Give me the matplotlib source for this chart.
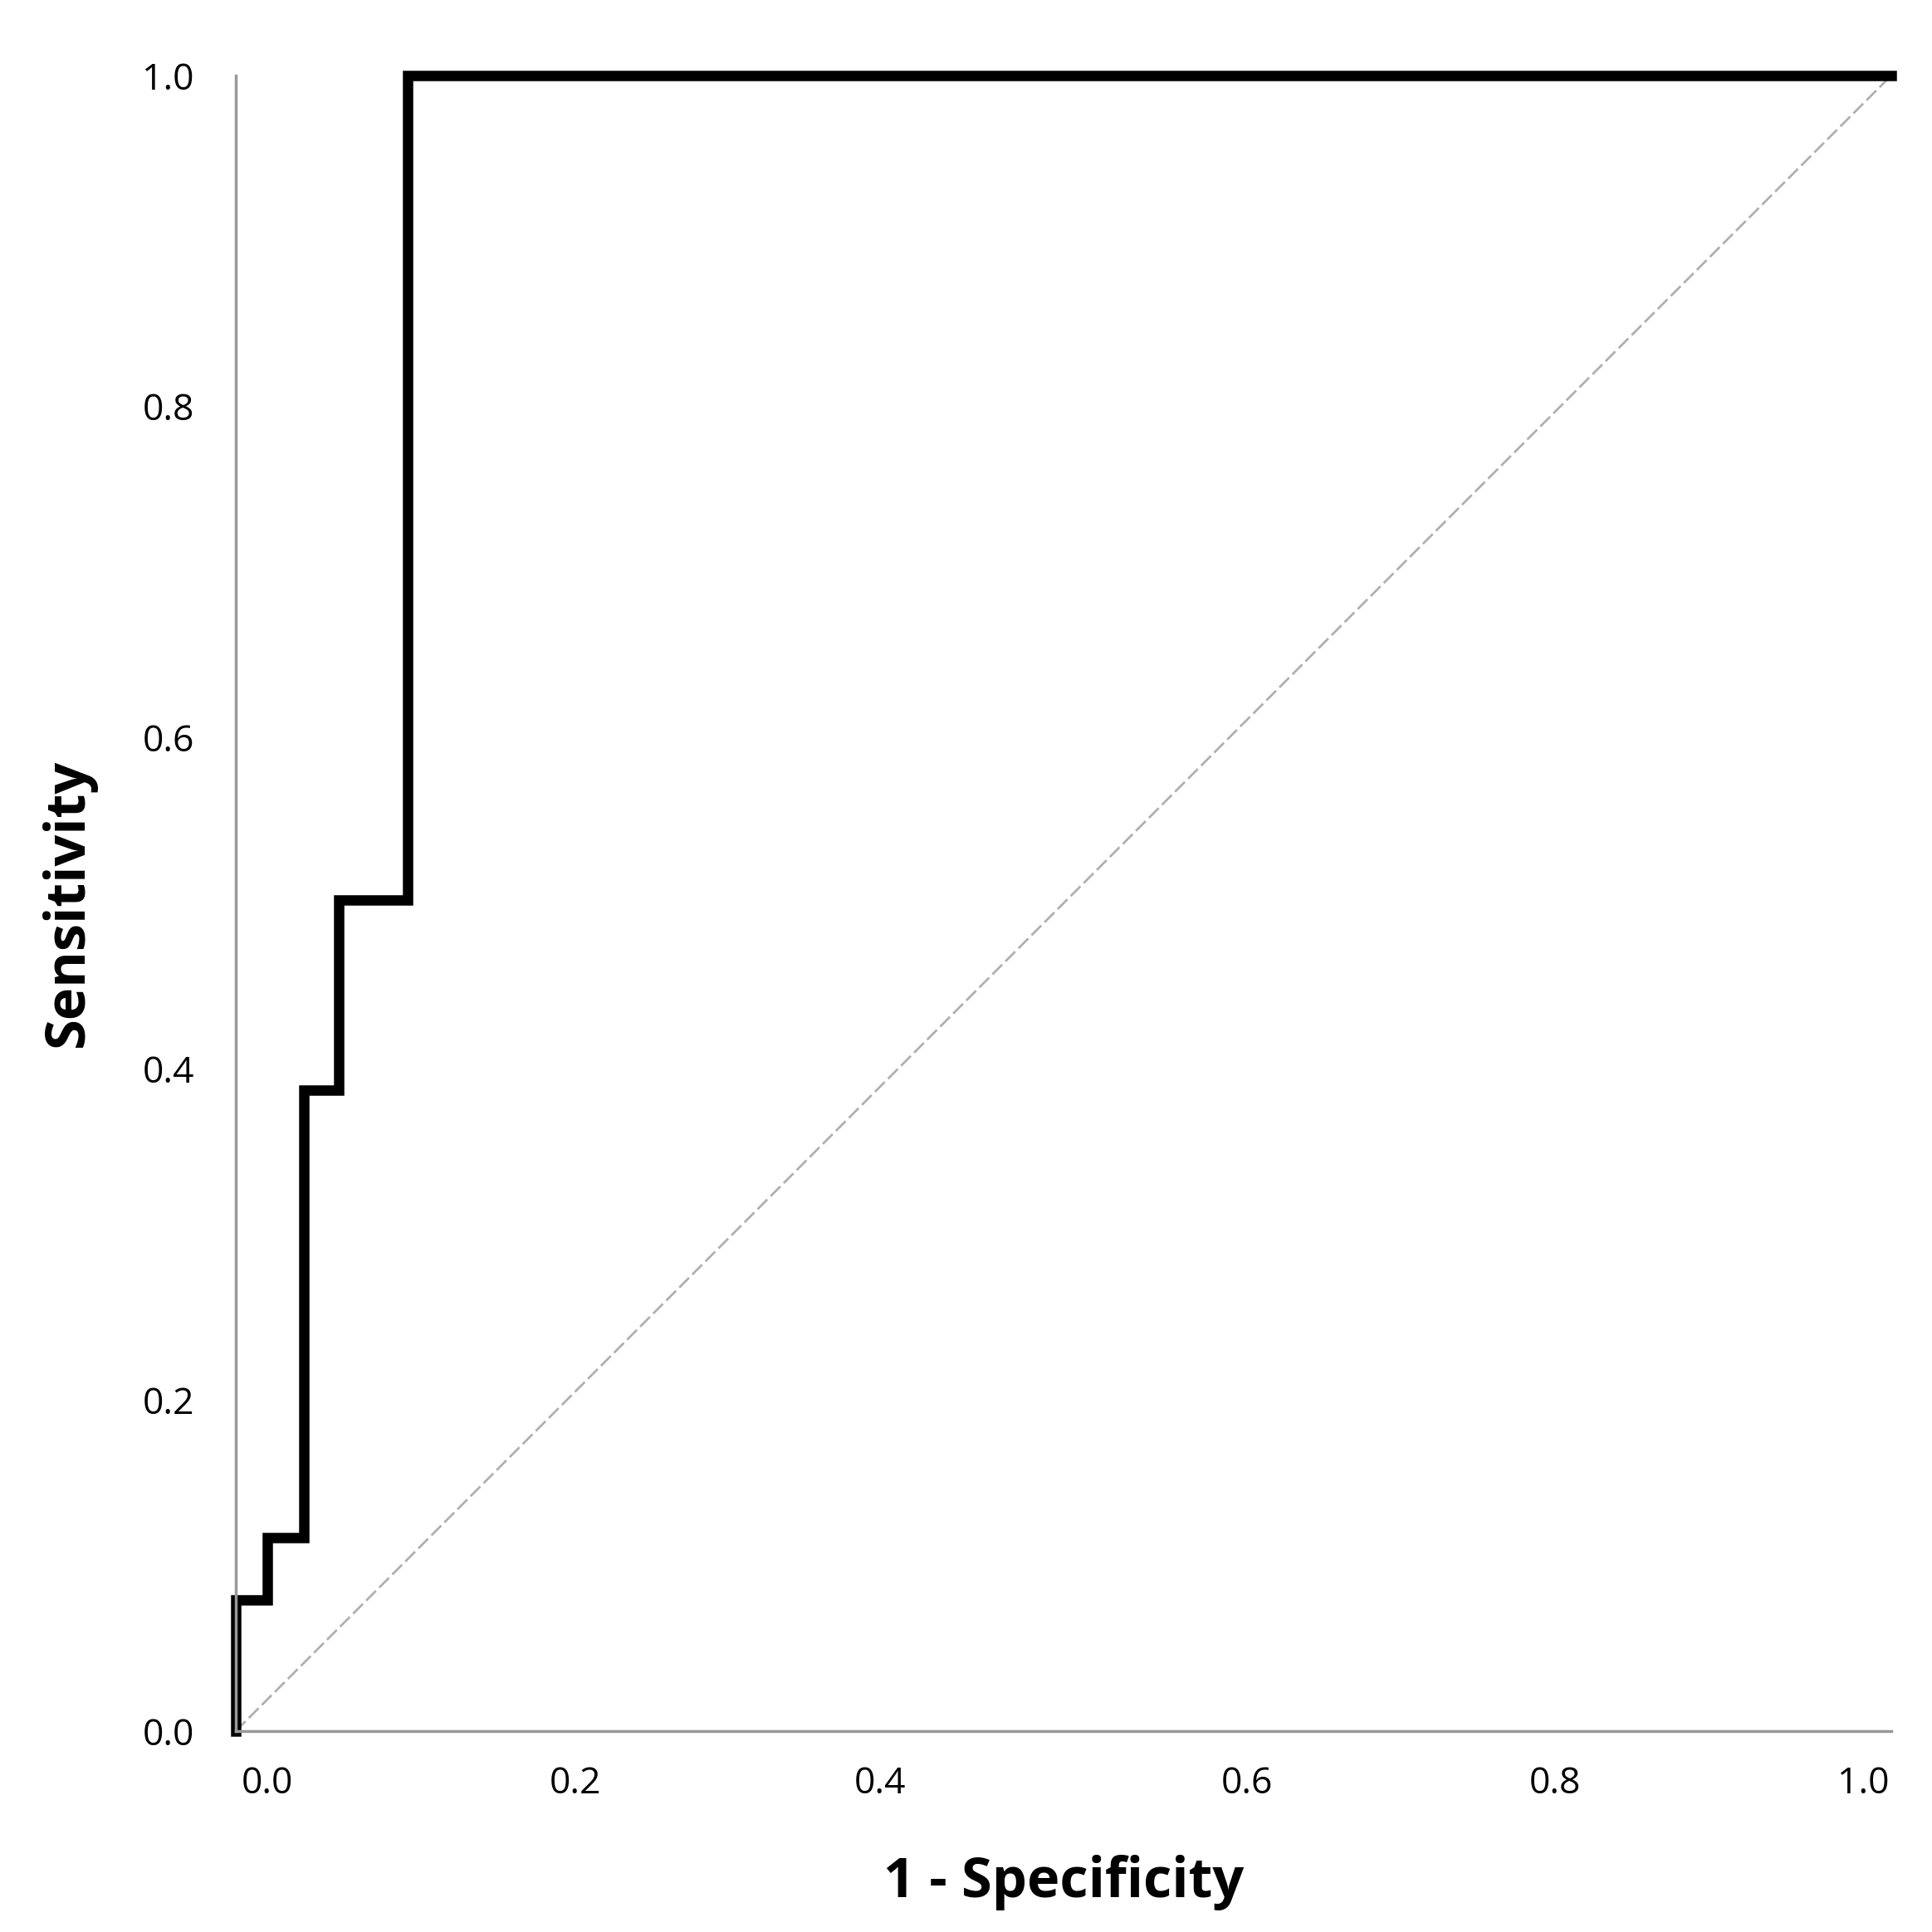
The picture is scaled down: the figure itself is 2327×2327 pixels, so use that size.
import matplotlib.pyplot as plt

# ROC step curve (1 - specificity, sensitivity)
fpr = [0.0, 0.0, 0.019, 0.019, 0.041, 0.041, 0.062, 0.062, 0.104, 0.104, 1.0]
tpr = [0.0, 0.079, 0.079, 0.117, 0.117, 0.387, 0.387, 0.502, 0.502, 1.0, 1.0]

# x tick labels sit unevenly in the original
xtick_pos = [0.019, 0.205, 0.389, 0.611, 0.797, 0.983]
xtick_labels = ['0.0', '0.2', '0.4', '0.6', '0.8', '1.0']
ytick_pos = [0.0, 0.2, 0.4, 0.6, 0.8, 1.0]
ytick_labels = ['0.0', '0.2', '0.4', '0.6', '0.8', '1.0']

plt.rcParams['font.family'] = ['Open Sans', 'DejaVu Sans']

fig = plt.figure(figsize=(23.27, 23.27), dpi=100)
ax = fig.add_axes([0.122, 0.104, 0.857, 0.857])

ax.plot([0, 1], [0, 1], color='#b0b0b0', lw=2, ls=(0, (6, 2)))
ax.plot(fpr, tpr, color='black', lw=9, solid_joinstyle='miter', clip_on=False)

ax.set_xlim(0, 1)
ax.set_ylim(0, 1)
ax.set_xticks(xtick_pos, xtick_labels)
ax.set_yticks(ytick_pos, ytick_labels)
ax.tick_params(length=0, labelsize=32)
ax.tick_params(axis='y', pad=36)
ax.tick_params(axis='x', pad=30)
for s in ['top', 'right']:
    ax.spines[s].set_visible(False)
for s in ['left', 'bottom']:
    ax.spines[s].set_color('#999999')
    ax.spines[s].set_linewidth(2.5)

ax.set_xlabel('1 - Specificity', fontsize=48, fontweight='bold', labelpad=45)
ax.set_ylabel('Sensitivity', fontsize=48, fontweight='bold', labelpad=40)

fig.savefig('out.png', dpi=100)
